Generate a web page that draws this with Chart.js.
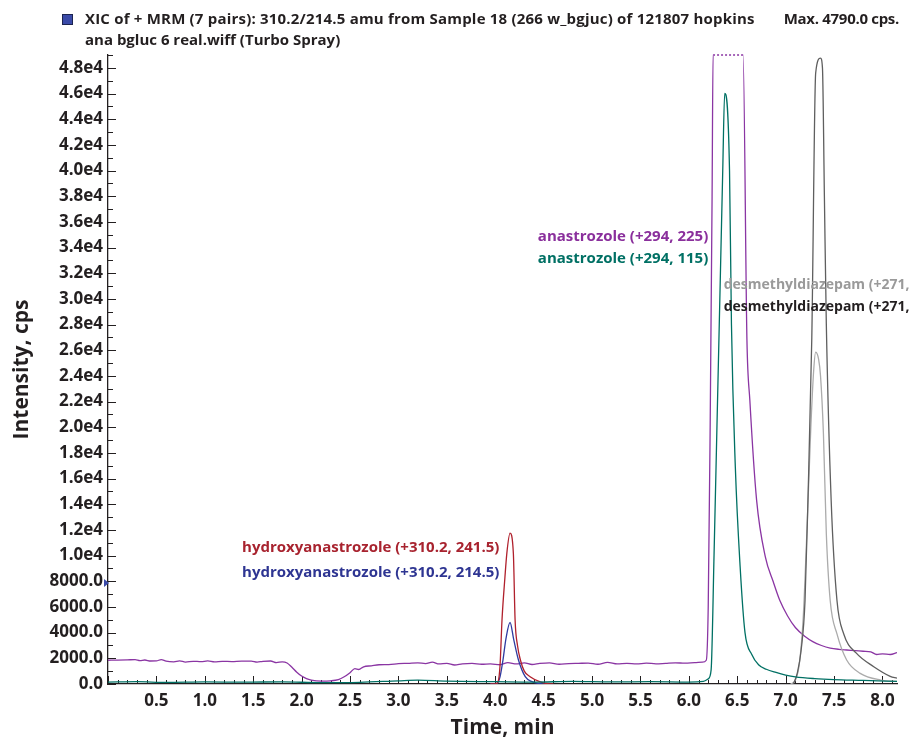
<!DOCTYPE html>
<html>
<head>
<meta charset="utf-8">
<script src="https://cdn.jsdelivr.net/npm/chart.js@4"></script>
<style>
  html, body { margin: 0; padding: 0; background: #fff; }
  #wrap { position: relative; width: 914px; height: 741px; }
  #chart { position: absolute; left: 0; top: 0; }
  .hd { position: absolute; font: bold 15px "Open Sans", sans-serif; color: #231f20; line-height: 21px; white-space: nowrap; }
  #swatch { position: absolute; left: 62px; top: 14px; width: 9px; height: 9px; background: #3a4aa8; border: 1px solid #1c2450; }
</style>
</head>
<body>
<div id="wrap">
  <canvas id="chart" width="914" height="741"></canvas>
  <div id="swatch"></div>
  <div class="hd" style="left:85px; top:8px; letter-spacing:0.2px;">XIC of + MRM (7 pairs): 310.2/214.5 amu from Sample 18 (266 w_bgjuc) of 121807 hopkins</div>
  <div class="hd" style="left:85px; top:29px;">ana bgluc 6 real.wiff (Turbo Spray)</div>
  <div class="hd" style="right:15px; top:8px; letter-spacing:-0.3px;">Max. 4790.0 cps.</div>
</div>
<script>
// ---- axis ranges and ticks ----
const xRange = [0, 8.15];
const yRange = [0, 49000];
const xTicks = [0, 0.5, 1.0, 1.5, 2.0, 2.5, 3.0, 3.5, 4.0, 4.5, 5.0, 5.5, 6.0, 6.5, 7.0, 7.5, 8.0];
const yTicks = [0, 2000, 4000, 6000, 8000, 10000, 12000, 14000, 16000, 18000, 20000, 22000, 24000,
  26000, 28000, 30000, 32000, 34000, 36000, 38000, 40000, 42000, 44000, 46000, 48000];
const xMinorStep = 0.1;
const yMinorStep = 1000;
const markerLevel = 7860;

// ---- traces: [time (min), intensity (cps)] ----
const anastrozole225 = [
  [0.00, 1850], [0.10, 1860], [0.20, 1880], [0.28, 1900], [0.33, 1820], [0.38, 1870], [0.44, 1790],
  [0.50, 1800], [0.55, 1900], [0.60, 1780], [0.68, 1730], [0.74, 1800], [0.80, 1710], [0.88, 1770],
  [0.96, 1740], [1.03, 1800], [1.10, 1720], [1.18, 1770], [1.28, 1750], [1.38, 1780], [1.48, 1780],
  [1.54, 1700], [1.60, 1770], [1.68, 1790], [1.74, 1660], [1.80, 1730], [1.85, 1640], [1.90, 1300],
  [1.95, 920], [2.00, 620], [2.05, 420], [2.10, 310], [2.20, 230], [2.30, 250], [2.38, 340],
  [2.44, 560], [2.50, 880], [2.55, 1200], [2.59, 1130], [2.64, 1340], [2.72, 1420], [2.80, 1500],
  [2.90, 1510], [3.00, 1580], [3.10, 1610], [3.20, 1650], [3.28, 1590], [3.35, 1700], [3.42, 1560],
  [3.50, 1610], [3.58, 1480], [3.66, 1570], [3.76, 1610], [3.86, 1540], [3.95, 1570], [4.05, 1500],
  [4.13, 1660], [4.22, 1560], [4.30, 1650], [4.38, 1520], [4.46, 1600], [4.56, 1650], [4.66, 1540],
  [4.76, 1590], [4.86, 1610], [4.96, 1630], [5.06, 1540], [5.16, 1690], [5.26, 1560], [5.36, 1610],
  [5.46, 1560], [5.56, 1630], [5.66, 1570], [5.76, 1610], [5.86, 1650], [5.96, 1620], [6.06, 1660],
  [6.14, 1700], [6.18, 1850], [6.20, 6000], [6.22, 20000], [6.24, 38000], [6.25, 49000], [6.56, 49000],
  [6.60, 26760], [6.63, 22100], [6.70, 14300], [6.79, 9900], [6.87, 8000], [6.94, 6500], [7.02, 5300],
  [7.10, 4400], [7.20, 3700], [7.28, 3300], [7.37, 3000], [7.46, 2800], [7.55, 2700], [7.63, 2650],
  [7.72, 2600], [7.80, 2550], [7.88, 2500], [7.94, 2300], [8.00, 2350], [8.08, 2300], [8.15, 2450]
];
const anastrozole115 = [
  [0.00, 150], [0.30, 180], [0.60, 120], [1.00, 160], [1.40, 140], [1.80, 170], [2.20, 100],
  [2.60, 130], [3.00, 250], [3.20, 300], [3.50, 220], [4.00, 180], [4.40, 150], [4.80, 200],
  [5.20, 160], [5.60, 180], [6.00, 150], [6.15, 200], [6.20, 400], [6.23, 1100], [6.26, 10000],
  [6.29, 20000], [6.32, 30000], [6.35, 40000], [6.37, 46000], [6.42, 40000], [6.44, 28000],
  [6.48, 16900], [6.53, 9100], [6.58, 4000], [6.65, 2300], [6.72, 1500], [6.80, 1150], [6.90, 900],
  [7.00, 700], [7.10, 560], [7.30, 420], [7.50, 340], [7.80, 280], [8.15, 200]
];
const hydroxy2415 = [
  [3.95, 0], [4.00, 0], [4.03, 200], [4.05, 1500], [4.07, 5000], [4.10, 8300], [4.12, 10200],
  [4.153, 11750], [4.187, 10200], [4.205, 5000], [4.23, 3000], [4.26, 1870], [4.30, 1000],
  [4.36, 570], [4.46, 180], [4.52, 50], [4.60, 0]
];
const hydroxy2145 = [
  [3.95, 0], [4.00, 0], [4.03, 150], [4.05, 570], [4.08, 1870], [4.11, 3500], [4.153, 4790],
  [4.19, 3500], [4.24, 1870], [4.31, 570], [4.38, 180], [4.45, 40], [4.52, 0]
];
const desmethylA = [
  [7.05, 0], [7.10, 300], [7.14, 1500], [7.18, 5000], [7.22, 12000], [7.26, 20000], [7.29, 24500],
  [7.31, 25850], [7.34, 25300], [7.36, 24000], [7.39, 19500], [7.42, 11700], [7.46, 6500],
  [7.53, 3900], [7.63, 1870], [7.77, 830], [7.98, 310], [8.15, 200]
];
const desmethylB = [
  [7.08, 0], [7.12, 850], [7.16, 2650], [7.20, 6500], [7.23, 14300], [7.27, 27000], [7.31, 47600],
  [7.36, 48750], [7.38, 48000], [7.40, 38000], [7.42, 28000], [7.47, 14300], [7.53, 6500],
  [7.60, 3900], [7.73, 2400], [7.91, 1350], [8.08, 600], [8.15, 450]
];

const ink = '#231f20';
const face = '"Open Sans", sans-serif';
const pts = (arr) => arr.map(([x, y]) => ({ x, y }));

function trace(data, color, extra) {
  return Object.assign({
    data: pts(data),
    borderColor: color,
    borderWidth: 1.3,
    pointRadius: 0,
    fill: false,
    cubicInterpolationMode: 'monotone',
  }, extra || {});
}

// in-plot compound labels, anchored through the scales
const peakLabels = [
  { text: 'anastrozole (+294, 225)', x: 6.20, y: 34850, align: 'right', color: '#8a2f9c' },
  { text: 'anastrozole (+294, 115)', x: 6.20, y: 33140, align: 'right', color: '#007064' },
  { text: 'desmethyldiazepam (+271,', x: 6.36, y: 31120, align: 'left', color: '#9a9a9a' },
  { text: 'desmethyldiazepam (+271,', x: 6.36, y: 29330, align: 'left', color: '#231f20' },
  { text: 'hydroxyanastrozole (+310.2, 241.5)', x: 1.385, y: 10580, align: 'left', color: '#a8232f' },
  { text: 'hydroxyanastrozole (+310.2, 214.5)', x: 1.385, y: 8640, align: 'left', color: '#2e3592' },
];

const decorations = {
  id: 'decorations',
  beforeDatasetsDraw(chart) {
    const { ctx, chartArea, scales: { x, y } } = chart;
    ctx.save();
    ctx.strokeStyle = ink;
    ctx.lineWidth = 1;
    ctx.beginPath();
    for (let i = 0; i * xMinorStep <= xRange[1] + 1e-9; i++) {
      const px = Math.round(x.getPixelForValue(i * xMinorStep)) + 0.5;
      const len = i % 5 === 0 ? 8 : 4;
      ctx.moveTo(px, chartArea.bottom);
      ctx.lineTo(px, chartArea.bottom - len);
    }
    for (let i = 0; i * yMinorStep <= yRange[1]; i++) {
      const py = Math.round(y.getPixelForValue(i * yMinorStep)) + 0.5;
      const len = i % 2 === 0 ? 8 : 5;
      ctx.moveTo(chartArea.left, py);
      ctx.lineTo(chartArea.left + len, py);
    }
    ctx.stroke();
    // small level marker on the intensity axis
    const my = y.getPixelForValue(markerLevel);
    ctx.fillStyle = '#3a4aa8';
    ctx.beginPath();
    ctx.moveTo(chartArea.left - 4, my - 4);
    ctx.lineTo(chartArea.left + 1, my);
    ctx.lineTo(chartArea.left - 4, my + 4);
    ctx.closePath();
    ctx.fill();
    ctx.restore();
  },
  afterDatasetsDraw(chart) {
    const { ctx, scales: { x, y } } = chart;
    ctx.save();
    ctx.textBaseline = 'middle';
    peakLabels.forEach((l) => {
      ctx.font = 'bold 15px ' + face;
      if (ctx.measureText(l.text).width + x.getPixelForValue(l.x) > 914 && l.align === 'left') {
        ctx.font = 'bold 14px ' + face;
      }
      ctx.fillStyle = l.color;
      ctx.textAlign = l.align;
      ctx.fillText(l.text, x.getPixelForValue(l.x), y.getPixelForValue(l.y));
    });
    ctx.restore();
  },
};

const tickFont = { family: face, size: 17, weight: 'bold' };
const titleFont = { family: face, size: 21, weight: 'bold' };

new Chart(document.getElementById('chart'), {
  type: 'line',
  data: {
    datasets: [
      trace(anastrozole115, '#007064'),
      trace(hydroxy2415, '#b0202c'),
      trace(hydroxy2145, '#2e3aa0'),
      trace(desmethylB, '#5f5f5f'),
      trace(desmethylA, '#ababab'),
      trace(anastrozole225, '#8a35a3', {
        clip: { left: 0, right: 0, top: 3, bottom: 0 },
        segment: {
          borderDash: (c) => (c.p0.parsed.y >= yRange[1] && c.p1.parsed.y >= yRange[1] ? [2, 2] : undefined),
        },
      }),
    ],
  },
  options: {
    responsive: false,
    animation: false,
    layout: { padding: { top: 55, right: 17, left: 0, bottom: 0 } },
    plugins: { legend: { display: false }, tooltip: { enabled: false } },
    scales: {
      x: {
        type: 'linear',
        min: xRange[0],
        max: xRange[1],
        grid: { display: false, drawTicks: false },
        border: { color: ink, width: 1.3 },
        afterBuildTicks: (s) => { s.ticks = xTicks.map((value) => ({ value })); },
        ticks: {
          autoSkip: false,
          maxRotation: 0,
          padding: 7,
          color: ink,
          font: tickFont,
          callback: (v) => (v === 0 ? '' : v.toFixed(1)),
        },
        title: { display: true, text: 'Time, min', color: ink, font: titleFont, padding: { top: 2, bottom: 0 } },
        afterFit: (s) => { s.height = 57; },
      },
      y: {
        min: yRange[0],
        max: yRange[1],
        grid: { display: false, drawTicks: false },
        border: { color: ink, width: 1.3 },
        afterBuildTicks: (s) => { s.ticks = yTicks.map((value) => ({ value })); },
        ticks: {
          autoSkip: false,
          padding: 5,
          color: ink,
          font: tickFont,
          callback: (v) => (v >= 10000 ? (v / 10000).toFixed(1) + 'e4' : v.toFixed(1)),
        },
        title: { display: true, text: 'Intensity, cps', color: ink, font: titleFont, padding: { top: 9, bottom: 0 } },
        afterFit: (s) => { s.width = 108; },
      },
    },
  },
  plugins: [decorations],
});
</script>
</body>
</html>
